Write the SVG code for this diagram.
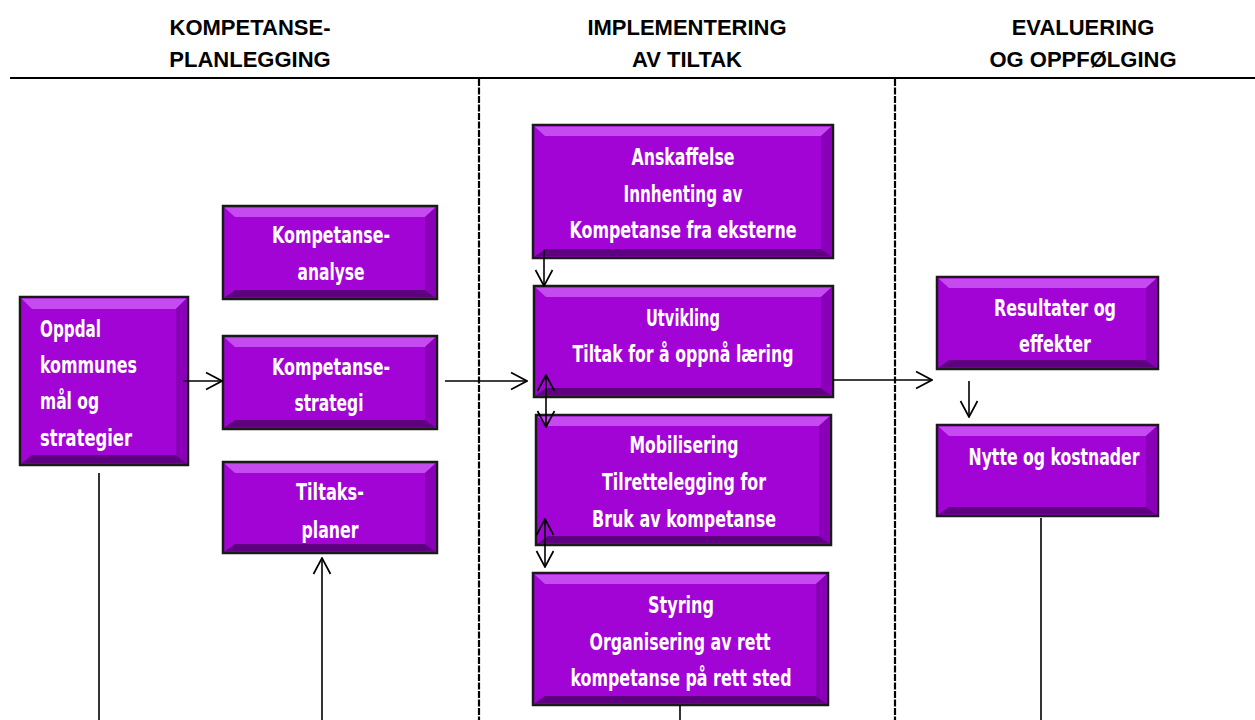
<svg xmlns="http://www.w3.org/2000/svg" width="1255" height="720" viewBox="0 0 1255 720">
<style>
.hd{font-family:"Liberation Sans",Arial,sans-serif;font-weight:bold;font-size:22px;fill:#000;text-anchor:middle}
.bx{fill:#a204d6;stroke:#1a1a1a;stroke-width:2.5}
.hi{fill:#c54af0}
.lo{fill:#5e0080}
.sd{fill:#8a00b8}
.t{font-family:"DejaVu Sans Condensed","Liberation Sans Narrow",sans-serif;font-weight:bold;font-size:23.5px;fill:#fff;text-anchor:middle}
.tl{text-anchor:start}
.ln{stroke:#000;stroke-width:1.6;fill:none}
.dv{stroke:#000;stroke-width:2.2;stroke-dasharray:7 1.5;fill:none}
</style>
<defs>
<marker id="ah" viewBox="0 0 18 20" refX="17" refY="10" markerWidth="18" markerHeight="20" markerUnits="userSpaceOnUse" orient="auto-start-reverse">
<path d="M1,1.5 L17,10 L1,18.5" fill="none" stroke="#000" stroke-width="1.7"/>
</marker>
</defs>

<g id="headers">
<line x1="10" y1="78" x2="1255" y2="78" stroke="#000" stroke-width="2.2"/>
<text class="hd" x="250" y="35">KOMPETANSE-</text>
<text class="hd" x="250" y="67">PLANLEGGING</text>
<text class="hd" x="687" y="35">IMPLEMENTERING</text>
<text class="hd" x="687" y="67">AV TILTAK</text>
<text class="hd" x="1083" y="35">EVALUERING</text>
<text class="hd" x="1083" y="67">OG OPPFØLGING</text>
<line class="dv" x1="479" y1="79" x2="479" y2="720"/>
<line class="dv" x1="895" y1="79" x2="895" y2="720"/>
</g>

<g id="oppdal">
<rect class="bx" x="20" y="297" width="168" height="168"/>
<polygon class="hi" points="21.5,298.5 186.5,298.5 176,309 32,309"/>
<polygon class="lo" points="21.5,463.5 186.5,463.5 176,455 32,455"/>
<polygon class="sd" points="186.5,298.5 186.5,463.5 176,455 176,309"/>
<text class="t tl" x="40" y="337" textLength="61" lengthAdjust="spacingAndGlyphs">Oppdal</text>
<text class="t tl" x="40" y="373" textLength="97" lengthAdjust="spacingAndGlyphs">kommunes</text>
<text class="t tl" x="40" y="409" textLength="59" lengthAdjust="spacingAndGlyphs">mål og</text>
<text class="t tl" x="40" y="446" textLength="92" lengthAdjust="spacingAndGlyphs">strategier</text>
</g>

<g id="kompetanseanalyse">
<rect class="bx" x="223" y="206" width="214" height="93"/>
<polygon class="hi" points="224.5,207.5 435.5,207.5 425,217 235,217"/>
<polygon class="lo" points="224.5,297.5 435.5,297.5 425,290 235,290"/>
<polygon class="sd" points="435.5,207.5 435.5,297.5 425,290 425,217"/>
<text class="t" x="331" y="243" textLength="118" lengthAdjust="spacingAndGlyphs">Kompetanse-</text>
<text class="t" x="331" y="280" textLength="67" lengthAdjust="spacingAndGlyphs">analyse</text>
</g>

<g id="kompetansestrategi">
<rect class="bx" x="223" y="336" width="214" height="93"/>
<polygon class="hi" points="224.5,337.5 435.5,337.5 425,347 235,347"/>
<polygon class="lo" points="224.5,427.5 435.5,427.5 425,420 235,420"/>
<polygon class="sd" points="435.5,337.5 435.5,427.5 425,420 425,347"/>
<text class="t" x="331" y="375" textLength="118" lengthAdjust="spacingAndGlyphs">Kompetanse-</text>
<text class="t" x="329" y="411" textLength="69" lengthAdjust="spacingAndGlyphs">strategi</text>
</g>

<g id="tiltaksplaner">
<rect class="bx" x="223" y="462" width="214" height="91"/>
<polygon class="hi" points="224.5,463.5 435.5,463.5 425,473 235,473"/>
<polygon class="lo" points="224.5,551.5 435.5,551.5 425,544 235,544"/>
<polygon class="sd" points="435.5,463.5 435.5,551.5 425,544 425,473"/>
<text class="t" x="330" y="500" textLength="68" lengthAdjust="spacingAndGlyphs">Tiltaks-</text>
<text class="t" x="330" y="538" textLength="57" lengthAdjust="spacingAndGlyphs">planer</text>
</g>

<g id="anskaffelse">
<rect class="bx" x="533" y="125" width="300" height="133"/>
<polygon class="hi" points="534.5,126.5 831.5,126.5 821,136 545,136"/>
<polygon class="lo" points="534.5,256.5 831.5,256.5 821,249 545,249"/>
<polygon class="sd" points="831.5,126.5 831.5,256.5 821,249 821,136"/>
<text class="t" x="683" y="165" textLength="103" lengthAdjust="spacingAndGlyphs">Anskaffelse</text>
<text class="t" x="683" y="202" textLength="119" lengthAdjust="spacingAndGlyphs">Innhenting av</text>
<text class="t" x="683" y="238" textLength="227" lengthAdjust="spacingAndGlyphs">Kompetanse fra eksterne</text>
</g>

<g id="utvikling">
<rect class="bx" x="534" y="286" width="299" height="111"/>
<polygon class="hi" points="535.5,287.5 831.5,287.5 821,297 546,297"/>
<polygon class="lo" points="535.5,395.5 831.5,395.5 821,388 546,388"/>
<polygon class="sd" points="831.5,287.5 831.5,395.5 821,388 821,297"/>
<text class="t" x="683" y="326" textLength="74" lengthAdjust="spacingAndGlyphs">Utvikling</text>
<text class="t" x="683" y="362" textLength="221" lengthAdjust="spacingAndGlyphs">Tiltak for å oppnå læring</text>
</g>

<g id="mobilisering">
<rect class="bx" x="536" y="415" width="295" height="130"/>
<polygon class="hi" points="537.5,416.5 829.5,416.5 819,426 548,426"/>
<polygon class="lo" points="537.5,543.5 829.5,543.5 819,536 548,536"/>
<polygon class="sd" points="829.5,416.5 829.5,543.5 819,536 819,426"/>
<text class="t" x="684" y="453" textLength="109" lengthAdjust="spacingAndGlyphs">Mobilisering</text>
<text class="t" x="684" y="490" textLength="164" lengthAdjust="spacingAndGlyphs">Tilrettelegging for</text>
<text class="t" x="684" y="527" textLength="184" lengthAdjust="spacingAndGlyphs">Bruk av kompetanse</text>
</g>

<g id="styring">
<rect class="bx" x="533" y="573" width="295" height="132"/>
<polygon class="hi" points="534.5,574.5 826.5,574.5 816,584 545,584"/>
<polygon class="lo" points="534.5,703.5 826.5,703.5 816,696 545,696"/>
<polygon class="sd" points="826.5,574.5 826.5,703.5 816,696 816,584"/>
<text class="t" x="681" y="613" textLength="66" lengthAdjust="spacingAndGlyphs">Styring</text>
<text class="t" x="680" y="650" textLength="181" lengthAdjust="spacingAndGlyphs">Organisering av rett</text>
<text class="t" x="681" y="686" textLength="221" lengthAdjust="spacingAndGlyphs">kompetanse på rett sted</text>
</g>

<g id="resultater">
<rect class="bx" x="937" y="277" width="221" height="92"/>
<polygon class="hi" points="938.5,278.5 1156.5,278.5 1146,288 949,288"/>
<polygon class="lo" points="938.5,367.5 1156.5,367.5 1146,360 949,360"/>
<polygon class="sd" points="1156.5,278.5 1156.5,367.5 1146,360 1146,288"/>
<text class="t" x="1055" y="316" textLength="122" lengthAdjust="spacingAndGlyphs">Resultater og</text>
<text class="t" x="1055" y="352" textLength="72" lengthAdjust="spacingAndGlyphs">effekter</text>
</g>

<g id="nytte">
<rect class="bx" x="937" y="425" width="221" height="91"/>
<polygon class="hi" points="938.5,426.5 1156.5,426.5 1146,436 949,436"/>
<polygon class="lo" points="938.5,514.5 1156.5,514.5 1146,507 949,507"/>
<polygon class="sd" points="1156.5,426.5 1156.5,514.5 1146,507 1146,436"/>
<text class="t" x="1054" y="465" textLength="171" lengthAdjust="spacingAndGlyphs">Nytte og kostnader</text>
</g>

<g id="connectors">
<line class="ln" x1="183" y1="381" x2="222" y2="381" marker-end="url(#ah)"/>
<line class="ln" x1="445" y1="381" x2="527" y2="381" marker-end="url(#ah)"/>
<line class="ln" x1="544" y1="250" x2="544" y2="286" marker-end="url(#ah)"/>
<line class="ln" x1="546" y1="375" x2="546" y2="427" marker-start="url(#ah)" marker-end="url(#ah)"/>
<line class="ln" x1="545" y1="519" x2="545" y2="567" marker-start="url(#ah)" marker-end="url(#ah)"/>
<line class="ln" x1="833" y1="380" x2="932" y2="380" marker-end="url(#ah)"/>
<line class="ln" x1="969" y1="381" x2="969" y2="417" marker-end="url(#ah)"/>
<line class="ln" x1="99" y1="473" x2="99" y2="720"/>
<line class="ln" x1="322" y1="720" x2="322" y2="558" marker-end="url(#ah)"/>
<line class="ln" x1="680" y1="705" x2="680" y2="720"/>
<line class="ln" x1="1041" y1="518" x2="1041" y2="720"/>
</g>
</svg>
